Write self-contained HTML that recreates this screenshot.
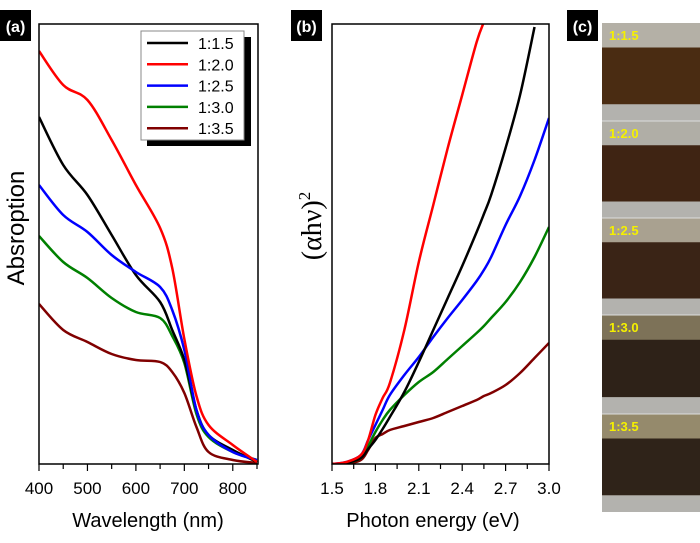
<!DOCTYPE html>
<html><head><meta charset="utf-8"><style>
body{margin:0;background:#fff;width:700px;height:543px;overflow:hidden}
svg{display:block;font-family:"Liberation Sans",Arial,sans-serif}
</style></head><body>
<svg id="s" width="700" height="543" viewBox="0 0 700 543">
<defs><clipPath id="ca"><rect x="39" y="24" width="219" height="440"/></clipPath>
<clipPath id="cb"><rect x="332" y="24" width="217" height="440"/></clipPath></defs>
<g><rect x="0" y="10" width="31" height="31" fill="#000"/><text x="15.5" y="32" fill="#fff" font-size="16" font-weight="bold" text-anchor="middle">(a)</text></g>
<g><rect x="291" y="10" width="31" height="31" fill="#000"/><text x="306.5" y="32" fill="#fff" font-size="16" font-weight="bold" text-anchor="middle">(b)</text></g>
<g><rect x="567" y="10" width="31" height="31" fill="#000"/><text x="582.5" y="32" fill="#fff" font-size="16" font-weight="bold" text-anchor="middle">(c)</text></g>
<g id="ga"></g>
<g id="gb"></g>
<g id="gc"></g>
<text x="24" y="228" font-size="24" text-anchor="middle" transform="rotate(-90 24 228)">Absroption</text>
<text x="148" y="527" font-size="20" text-anchor="middle">Wavelength (nm)</text>
<text x="433" y="527" font-size="20" text-anchor="middle">Photon energy (eV)</text>
<text x="321" y="226" font-size="28" font-family="Liberation Serif,serif" text-anchor="middle" transform="rotate(-90 321 226)">(αhν)<tspan dy="-11" font-size="17">2</tspan></text>
</svg>
<script>
const seriesNames=["1:1.5","1:2.0","1:2.5","1:3.0","1:3.5"];
const seriesColors=["#000000","#ff0000","#0000ff","#008000","#800000"];
const wlA=[400,450,500,550,600,650,675,700,725,750,800,850];
const absBlack=[347,299,269,229,189,162,134,104,54,29,14,2];
const absRed=[413,379,364,324,279,236,196,125,68,39,19,2];
const absBlue=[279,249,232,209,192,177,154,114,54,29,12,4];
const absGreen=[228,202,186,166,152,146,128,101,50,27,12,4];
const absMaroon=[160,134,122,110,104,102,92,71,37,12,4,1];
const xTicksA=[400,500,600,700,800];
const eB=[1.5,1.6,1.7,1.75,1.8,1.85,1.9,2.0,2.1,2.2,2.3,2.4,2.5,2.55,2.6,2.7,2.8,2.9,3.0];
const taucBlack=[0,1,6,15,24,35,47,72,102,134,166,198,232,250,269,316,369,437,null];
const taucRed=[0,2,9,24,49,66,81,134,202,259,316,369,422,442,null,null,null,null,null];
const taucBlue=[0,2,9,24,39,54,69,89,107,127,146,164,183,194,207,239,268,304,346];
const taucGreen=[0,1,6,18,32,44,54,69,82,92,105,118,131,138,146,162,182,207,237];
const taucMaroon=[0,0,4,14,26,30,34,38,42,46,52,58,64,68,71,79,91,106,121];
const xTicksB=[1.5,1.8,2.1,2.4,2.7,3.0];
const xTickLabelsB=["1.5","1.8","2.1","2.4","2.7","3.0"];
const NS="http://www.w3.org/2000/svg";
function mk(p,t,a){const e=document.createElementNS(NS,t);for(const k in a)e.setAttribute(k,a[k]);p.appendChild(e);return e;}
function smooth(pts){let d="M"+pts[0][0]+","+pts[0][1];for(let i=0;i<pts.length-1;i++){const p0=pts[i-1]||pts[i],p1=pts[i],p2=pts[i+1],p3=pts[i+2]||p2;d+=" C"+(p1[0]+(p2[0]-p0[0])/6)+","+(p1[1]+(p2[1]-p0[1])/6)+" "+(p2[0]-(p3[0]-p1[0])/6)+","+(p2[1]-(p3[1]-p1[1])/6)+" "+p2[0]+","+p2[1];}return d;}
// Panel A
const ga=document.getElementById('ga');
const xA=v=>39+(v-400)*(218/450), yA=v=>464-v;
const aSeries=[absBlack,absRed,absBlue,absGreen,absMaroon];
[4,3,0,2,1].forEach(i=>{const pts=wlA.map((w,j)=>[xA(w),yA(aSeries[i][j])]);
const p=mk(ga,'path',{d:smooth(pts),fill:'none',stroke:seriesColors[i],'stroke-width':2.5,'clip-path':'url(#ca)'});

});
const fa=mk(ga,'rect',{x:39,y:24,width:219,height:440,fill:'none',stroke:'#000','stroke-width':1.5});


for(let v=400;v<=850;v+=50){const x=xA(v);mk(ga,'line',{x1:x,x2:x,y1:464,y2:v%100?469:471,stroke:'#000','stroke-width':1.2});}
xTicksA.forEach(v=>{const t=mk(ga,'text',{x:xA(v),y:494,'font-size':17,'text-anchor':'middle'});t.textContent=v;

});
// legend
const lg=mk(ga,'g',{});


mk(lg,'rect',{x:147,y:37,width:104,height:109,fill:'#000'});
mk(lg,'rect',{x:141,y:31,width:103,height:109,fill:'#fff',stroke:'#888','stroke-width':1});
seriesNames.forEach((n,i)=>{const y=43+i*21.3;
const e=mk(lg,'g',{});


mk(e,'line',{x1:147,x2:188,y1:y,y2:y,stroke:seriesColors[i],'stroke-width':2.5});
const t=mk(e,'text',{x:198,y:y+6,'font-size':16});t.textContent=n;});
// Panel B
const gb=document.getElementById('gb');
const xB=v=>332+(v-1.5)*(217/1.5), yB=v=>464-v;
const bSeries=[taucBlack,taucRed,taucBlue,taucGreen,taucMaroon];
[4,3,2,0,1].forEach(i=>{const pts=[];eB.forEach((e,j)=>{const v=bSeries[i][j];if(v!==null)pts.push([xB(e),yB(v)]);});
const p=mk(gb,'path',{d:smooth(pts),fill:'none',stroke:seriesColors[i],'stroke-width':2.5,'clip-path':'url(#cb)'});

});
const fb=mk(gb,'rect',{x:332,y:24,width:217,height:440,fill:'none',stroke:'#000','stroke-width':1.5});


for(let k=0;k<=10;k++){const x=xB(1.5+k*0.15);mk(gb,'line',{x1:x,x2:x,y1:464,y2:k%2?469:471,stroke:'#000','stroke-width':1.2});}
xTicksB.forEach((v,i)=>{const t=mk(gb,'text',{x:xB(v),y:494,'font-size':17,'text-anchor':'middle'});t.textContent=xTickLabelsB[i];

});
// Panel C
const gc=document.getElementById('gc');
const secs=[[23,121],[121,218],[218,315],[315,414],[414,512]];
const tops=["#b4b0a6","#b0aea6","#a9a190","#7d7258","#958a6c"];
const browns=["#4a2c12","#3f2413","#3a2416","#2e2218","#2f2319"];
secs.forEach((s,i)=>{const h=s[1]-s[0];
const g=mk(gc,'g',{});


mk(g,'rect',{x:602,y:s[0],width:98,height:h,fill:tops[i]});
mk(g,'rect',{x:602,y:s[0]+h*0.25,width:98,height:h*0.58,fill:browns[i]});
mk(g,'rect',{x:602,y:s[0]+h*0.83,width:98,height:h*0.17,fill:'#b3b2ae'});
if(i>0)mk(g,'line',{x1:602,x2:700,y1:s[0],y2:s[0],stroke:'#ddd','stroke-width':1});
const t=mk(g,'text',{x:609,y:s[0]+17,'font-size':13,'font-weight':'bold',fill:'#f5f000'});t.textContent=seriesNames[i];});
</script>
</body></html>
